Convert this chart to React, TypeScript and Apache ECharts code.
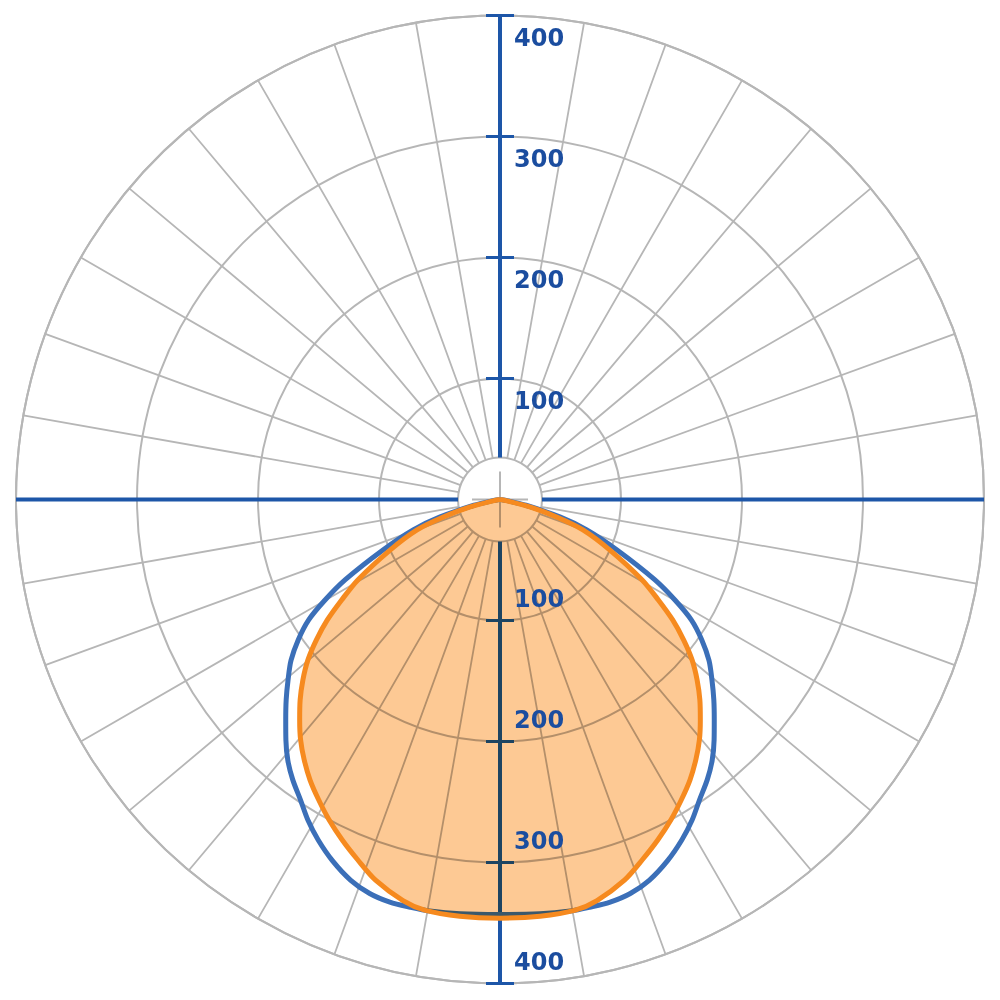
import React, { useEffect, useRef } from "react";
import * as echarts from "echarts";

// Gamma angles (degrees from nadir; negative = right half, positive = left half)
const blueAngles = [-90, -85, -81, -77.5, -73.7, -70.7, -66.7, -62.6, -60.1, -57.8, -55.2, -52.4, -49.6, -46.9, -44.2, -41.7, -39.1, -36.5, -33.6, -30.9, -28.1, -24.9, -21.4, -18.3, -15.3, -12.4, -9.7, -5.5, 0, 5.5, 9.7, 12.4, 15.3, 18.3, 21.4, 24.9, 28.1, 30.9, 33.6, 36.5, 39.1, 41.7, 44.2, 46.9, 49.6, 52.4, 55.2, 57.8, 60.1, 62.6, 66.7, 70.7, 73.7, 77.5, 81, 85, 90];
// Luminous intensity, plane C0-C180 (blue curve)
const planeC0C180 = [0, 1, 6, 22, 52, 76, 105, 144, 167, 187, 203, 218, 230, 242, 254, 266, 278, 288, 298, 309, 319, 329, 338, 343, 345, 345, 345, 344, 343, 344, 345, 345, 345, 343, 338, 329, 319, 309, 298, 288, 278, 266, 254, 242, 230, 218, 203, 187, 167, 144, 105, 76, 52, 22, 6, 1, 0];

const orangeAngles = [-90, -84, -80, -76, -72.9, -69.9, -65.3, -60.5, -57.6, -55.1, -52.6, -50.1, -47.5, -44.9, -42.3, -39.7, -37, -34.1, -31.1, -28.1, -24.9, -21.6, -18.1, -13.6, -10.4, -5.5, 0, 5.5, 10.4, 13.6, 18.1, 21.6, 24.9, 28.1, 31.1, 34.1, 37, 39.7, 42.3, 44.9, 47.5, 50.1, 52.6, 55.1, 57.6, 60.5, 65.3, 69.9, 72.9, 76, 80, 84, 90];
// Luminous intensity, plane C90-C270 (orange filled curve)
const planeC90C270 = [0, 1, 5, 26, 49, 73, 100, 135, 155, 174, 191, 207, 221, 234, 246, 258, 269, 280, 290, 300, 310, 320, 331, 341, 345, 346, 346, 346, 345, 341, 331, 320, 310, 300, 290, 280, 269, 258, 246, 234, 221, 207, 191, 174, 155, 135, 100, 73, 49, 26, 5, 1, 0];

const radiusTicks = [100, 200, 300, 400];
const radiusMax = 400;
const spokeStep = 10;

const CENTER: [number, number] = [500, 499.5];
const R = 484;
const HOLE = 42;
const GRID = "#b6b6b6";
const AXIS = "#1d56a8";
const BLUE = "#3b6fb8";
const ORANGE = "#f68a1f";
const FILL = "#fdc994";
const LABEL = "#1b4d9f";
const SMOOTH = 0.3;

const hidden = {
  axisLine: { show: false },
  axisTick: { show: false },
  axisLabel: { show: false },
  splitLine: { show: false },
  splitArea: { show: false },
};

const toPolar = (vals: number[], angles: number[]) => vals.map((v, i) => [v, angles[i]]);

function angleAx(polarIndex: number, extra: any = {}) {
  return { type: "value", polarIndex, min: -180, max: 180, startAngle: 90, clockwise: true, ...hidden, ...extra };
}
function radiusAx(polarIndex: number, extra: any = {}) {
  return { type: "value", polarIndex, min: 0, max: radiusMax, ...hidden, ...extra };
}

export default function App() {
  const baseRef = useRef<HTMLDivElement>(null);
  const fillRef = useRef<HTMLDivElement>(null);
  const topRef = useRef<HTMLDivElement>(null);

  useEffect(() => {
    const base = echarts.init(baseRef.current!, undefined, { renderer: "svg" });
    const fill = echarts.init(fillRef.current!, undefined, { renderer: "svg" });
    const top = echarts.init(topRef.current!, undefined, { renderer: "svg" });

    const tickStyle = { color: AXIS, width: 3 };
    base.setOption({
      animation: false,
      polar: [
        { center: CENTER, radius: [0, R] },
        { center: CENTER, radius: [HOLE, R] },
        { center: CENTER, radius: [HOLE, R] },
        { center: CENTER, radius: [0, 28] },
        { center: CENTER, radius: [0, R] },
        { center: CENTER, radius: [0, R] },
        { center: CENTER, radius: [0, R] },
        { center: CENTER, radius: [0, R] },
      ],
      angleAxis: [
        angleAx(0),
        angleAx(1, { interval: spokeStep, splitLine: { show: true, lineStyle: { color: GRID, width: 1.8 } } }),
        angleAx(2, { interval: 90, z: 1, splitLine: { show: true, lineStyle: { color: AXIS, width: 4 } } }),
        angleAx(3, { interval: 90, splitLine: { show: true, lineStyle: { color: GRID, width: 2 } } }),
        angleAx(4, { startAngle: 90 }),
        angleAx(5, { startAngle: 90 }),
        angleAx(6, { startAngle: 270 }),
        angleAx(7, { startAngle: 270 }),
      ],
      radiusAxis: [
        radiusAx(0, { interval: 100, splitLine: { show: true, lineStyle: { color: GRID, width: 2 } } }),
        { type: "value", polarIndex: 1, min: 0, max: 1, interval: 1, ...hidden, splitLine: { show: true, lineStyle: { color: GRID, width: 2 } } },
        radiusAx(2),
        radiusAx(3),
        radiusAx(4, { z: 2, axisTick: { show: true, customValues: radiusTicks, length: 14, lineStyle: tickStyle } }),
        radiusAx(5, { z: 2, axisTick: { show: true, customValues: radiusTicks, length: -14, lineStyle: tickStyle } }),
        radiusAx(6, { z: 2, axisTick: { show: true, customValues: radiusTicks, length: 14, lineStyle: tickStyle } }),
        radiusAx(7, { z: 2, axisTick: { show: true, customValues: radiusTicks, length: -14, lineStyle: tickStyle } }),
      ],
      series: [
        {
          name: "C0-C180",
          type: "line",
          coordinateSystem: "polar",
          polarIndex: 0,
          data: toPolar(planeC0C180, blueAngles),
          symbol: "none",
          smooth: SMOOTH,
          z: 5,
          lineStyle: { color: BLUE, width: 5 },
        },
      ],
    });

    fill.setOption({
      animation: false,
      polar: [{ center: CENTER, radius: [0, R] }],
      angleAxis: [angleAx(0)],
      radiusAxis: [radiusAx(0)],
      series: [
        {
          name: "C90-C270 area",
          type: "line",
          coordinateSystem: "polar",
          polarIndex: 0,
          data: toPolar(planeC90C270, orangeAngles),
          symbol: "none",
          smooth: SMOOTH,
          lineStyle: { width: 0 },
          areaStyle: { color: FILL, opacity: 1 },
        },
      ],
    });

    const labelFont = { color: LABEL, fontFamily: "DejaVu Sans", fontWeight: "bold", fontSize: 24 };
    top.setOption({
      animation: false,
      polar: [
        { center: CENTER, radius: [0, R] },
        { center: CENTER, radius: [0, R] },
        { center: CENTER, radius: [0, R] },
      ],
      angleAxis: [angleAx(0), angleAx(1, { startAngle: 90 }), angleAx(2, { startAngle: 270 })],
      radiusAxis: [
        radiusAx(0),
        radiusAx(1, {
          axisLabel: { show: true, customValues: radiusTicks, showMaxLabel: true, margin: -14, align: "left", verticalAlign: "top", padding: [10, 0, 0, 0], ...labelFont },
        }),
        radiusAx(2, {
          axisLabel: { show: true, customValues: radiusTicks, showMaxLabel: true, margin: 14, align: "left", verticalAlign: "bottom", padding: [0, 0, 10, 0], ...labelFont },
        }),
      ],
      series: [
        {
          name: "C90-C270",
          type: "line",
          coordinateSystem: "polar",
          polarIndex: 0,
          data: toPolar(planeC90C270, orangeAngles),
          symbol: "none",
          smooth: SMOOTH,
          lineStyle: { color: ORANGE, width: 5 },
        },
      ],
    });

    return () => {
      base.dispose();
      fill.dispose();
      top.dispose();
    };
  }, []);

  const layer: React.CSSProperties = { position: "absolute", left: 0, top: 0, width: 1000, height: 1000 };
  return (
    <div style={{ position: "fixed", left: 0, top: 0, width: 1000, height: 1000, background: "#ffffff" }}>
      <div ref={baseRef} style={layer} />
      <div ref={fillRef} style={{ ...layer, mixBlendMode: "multiply" }} />
      <div ref={topRef} style={layer} />
    </div>
  );
}
